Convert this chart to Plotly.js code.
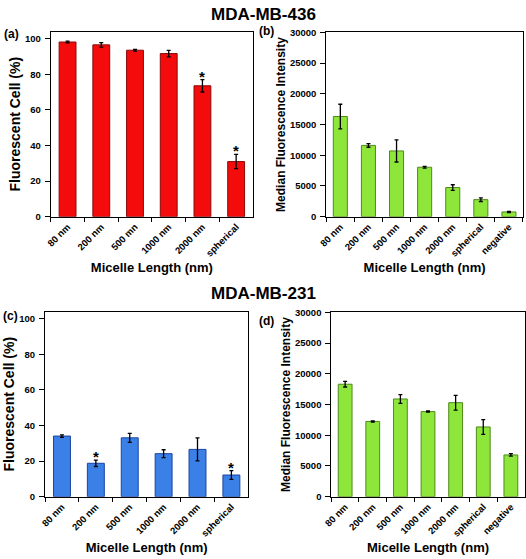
<!DOCTYPE html>
<html>
<head>
<meta charset="utf-8">
<script src="https://cdn.plot.ly/plotly-3.0.1.min.js"></script>
<style>html,body{margin:0;padding:0;background:#fff}#chart{width:526px;height:559px}</style>
</head>
<body>
<div id="chart"></div>
<script>
// Categories
const catsA = ["80 nm", "200 nm", "500 mn", "1000 nm", "2000 nm", "spherical"];
const catsB = ["80 nm", "200 nm", "500 mn", "1000 nm", "2000 nm", "spherical", "negative"];
const catsC = ["80 nm", "200 nm", "500 nm", "1000 nm", "2000 nm", "spherical"];
const catsD = ["80 nm", "200 nm", "500 nm", "1000 nm", "2000 nm", "spherical", "negative"];

// MDA-MB-436
const valsA = [98.2, 96.6, 93.6, 91.7, 73.6, 31.0];
const errA  = [0.5, 1.3, 0.5, 1.8, 3.5, 4.0];
const valsB = [16300, 11600, 10700, 8050, 4750, 2780, 780];
const errB  = [2000, 300, 1800, 150, 450, 300, 100];

// MDA-MB-231
const valsC = [34.1, 18.8, 33.1, 24.2, 26.6, 12.2];
const errC  = [0.7, 1.8, 2.5, 2.2, 6.5, 2.5];
const valsD = [18300, 12250, 15900, 13850, 15300, 11350, 6800];
const errD  = [450, 100, 700, 100, 1200, 1200, 200];

// Significance markers (category indices)
const starsA = [4, 5];
const starsC = [1, 5];

const FONT = "Liberation Sans, Arial, sans-serif";
const red = "#f40b0b", redLine = "#8a0a0a";
const green = "#8ee63a", greenLine = "#4f8a1a";
const blue = "#3a80e6", blueLine = "#1a44a0";

function bar(x, y, e, xa, ya, fill, line) {
  return {
    type: "bar", x: x, y: y, xaxis: xa, yaxis: ya,
    width: 0.5,
    marker: {color: fill, line: {color: line, width: 1}},
    error_y: {type: "data", array: e, visible: true, color: "#000", thickness: 1.3, width: 2},
    showlegend: false, hoverinfo: "x+y"
  };
}

const data = [
  bar(catsA, valsA, errA, "x", "y", red, redLine),
  bar(catsB, valsB, errB, "x2", "y2", green, greenLine),
  bar(catsC, valsC, errC, "x3", "y3", blue, blueLine),
  bar(catsD, valsD, errD, "x4", "y4", green, greenLine)
];

const tickF = {family: FONT, size: 9.5, color: "#000", weight: "bold"};
const xTitleF = {family: FONT, size: 13, color: "#000", weight: "bold"};

function xax(domain, anchor) {
  return {
    domain: domain, anchor: anchor, showgrid: false, zeroline: false,
    showline: true, linecolor: "#000", linewidth: 1, mirror: true,
    ticks: "outside", ticklen: 4, tickcolor: "#000", tickson: "boundaries",
    tickangle: -45, tickfont: tickF, automargin: false,
    title: {text: "Micelle Length (nm)", font: xTitleF, standoff: 5}
  };
}
function yax(domain, anchor, range, dtick, title, tsize, standoff) {
  return {
    domain: domain, anchor: anchor, range: range, dtick: dtick, tickformat: "d",
    showgrid: false, zeroline: false,
    showline: true, linecolor: "#000", linewidth: 1, mirror: true,
    ticks: "outside", ticklen: 5, tickcolor: "#000", tickfont: tickF, automargin: false,
    ticklabelstandoff: 2,
    title: {text: title, font: {family: FONT, size: tsize, color: "#000", weight: "bold"}, standoff: standoff}
  };
}

const annotations = [];
const starF = {family: FONT, size: 15, color: "#000", weight: "bold"};
starsA.forEach(i => annotations.push({x: catsA[i], y: valsA[i] + errA[i], xref: "x", yref: "y",
  text: "*", showarrow: false, yanchor: "bottom", yshift: -7, font: starF}));
starsC.forEach(i => annotations.push({x: catsC[i], y: valsC[i] + errC[i], xref: "x3", yref: "y3",
  text: "*", showarrow: false, yanchor: "bottom", yshift: -7, font: starF}));

const panelF = {family: FONT, size: 12, color: "#000", weight: "bold"};
[["(a)", 2, 0.94], ["(b)", 257, 0.945], ["(c)", 1, 0.434], ["(d)", 257, 0.425]].forEach(p => {
  annotations.push({text: p[0], xref: "paper", yref: "paper", x: p[1] / 526, y: p[2],
    xanchor: "left", yanchor: "middle", showarrow: false, font: panelF});
});
const headF = {family: FONT, size: 17, color: "#000", weight: "bold"};
annotations.push({text: "MDA-MB-436", xref: "paper", yref: "paper", x: 0.5, y: 1 - 14 / 559,
  xanchor: "center", yanchor: "middle", showarrow: false, font: headF});
annotations.push({text: "MDA-MB-231", xref: "paper", yref: "paper", x: 0.5, y: 1 - 293 / 559,
  xanchor: "center", yanchor: "middle", showarrow: false, font: headF});

const layout = {
  width: 526, height: 559,
  margin: {l: 0, r: 0, t: 0, b: 0},
  paper_bgcolor: "#fff", plot_bgcolor: "#fff",
  bargap: 0.5,
  xaxis:  xax([0.0964, 0.481], "y"),
  yaxis:  yax([0.6123, 0.9433], "x", [0, 104], 20, "Fluorescent Cell (%)", 14, 1),
  xaxis2: xax([0.6203, 0.9943], "y2"),
  yaxis2: yax([0.6123, 0.9422], "x2", [0, 30000], 5000, "Median Fluorescence Intensity", 12, 1),
  xaxis3: xax([0.0856, 0.4721], "y3"),
  yaxis3: yax([0.1114, 0.4424], "x3", [0, 104], 20, "Fluorescent Cell (%)", 14, 1),
  xaxis4: xax([0.6299, 0.9975], "y4"),
  yaxis4: yax([0.1114, 0.4413], "x4", [0, 30000], 5000, "Median Fluorescence Intensity", 12, 1),
  annotations: annotations
};

Plotly.newPlot("chart", data, layout, {displayModeBar: false, staticPlot: true});
</script>
</body>
</html>
